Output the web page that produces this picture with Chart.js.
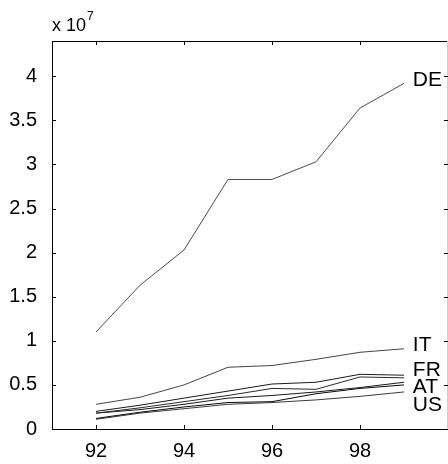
<!DOCTYPE html>
<html lang="en">
<head>
  <meta charset="UTF-8">
  <title>Country series</title>
  <script src="https://cdn.jsdelivr.net/npm/chart.js"></script>
  <style>
    body { margin: 0; background: #fff; }
  </style>
</head>
<body>
  <canvas id="myChart" width="448" height="464"></canvas>

  <script>
    // years and values (units of 1e7)
    const years = [92, 93, 94, 95, 96, 97, 98, 99];
    const de = [1.10, 1.63, 2.03, 2.83, 2.83, 3.03, 3.64, 3.92];
    const it = [0.28, 0.36, 0.50, 0.70, 0.72, 0.79, 0.87, 0.91];
    const fr = [0.20, 0.27, 0.35, 0.43, 0.51, 0.53, 0.62, 0.61];
    const other1 = [0.18, 0.24, 0.31, 0.38, 0.46, 0.45, 0.59, 0.58];
    const at = [0.18, 0.22, 0.28, 0.35, 0.38, 0.42, 0.47, 0.53];
    const other2 = [0.12, 0.19, 0.25, 0.30, 0.31, 0.40, 0.46, 0.50];
    const us = [0.11, 0.18, 0.23, 0.28, 0.30, 0.33, 0.37, 0.42];

    const xTicks = [92, 94, 96, 98];
    const yTicks = [0, 0.5, 1, 1.5, 2, 2.5, 3, 3.5, 4];

    // text labels at line ends: [text, y value]
    const endLabels = [['DE', 3.95], ['IT', 0.95], ['FR', 0.67], ['AT', 0.47], ['US', 0.27]];

    const series = [
      { name: 'DE', values: de, color: '#4a4a4a' },
      { name: 'IT', values: it, color: '#444444' },
      { name: 'FR', values: fr, color: '#1a1a1a' },
      { name: 'other1', values: other1, color: '#2a2a2a' },
      { name: 'AT', values: at, color: '#1a1a1a' },
      { name: 'other2', values: other2, color: '#0a0a0a' },
      { name: 'US', values: us, color: '#3a3a3a' }
    ];

    const FONT = '"Liberation Sans", Arial, sans-serif';

    const frame = {
      id: 'frame',
      afterDraw(chart) {
        const ctx = chart.ctx;
        const a = chart.chartArea;
        const xs = chart.scales.x, ys = chart.scales.y;
        ctx.save();
        ctx.strokeStyle = '#000';
        ctx.lineWidth = 1;
        // top border
        ctx.beginPath();
        ctx.moveTo(a.left, a.top + 0.5);
        ctx.lineTo(a.right, a.top + 0.5);
        ctx.stroke();
        // right border
        ctx.strokeStyle = '#cfcfcf';
        ctx.beginPath();
        ctx.moveTo(a.right - 0.5, a.top);
        ctx.lineTo(a.right - 0.5, a.bottom);
        ctx.stroke();
        // inward tick marks
        ctx.strokeStyle = '#000';
        ctx.beginPath();
        xTicks.forEach(v => {
          const px = Math.round(xs.getPixelForValue(v)) + 0.5;
          ctx.moveTo(px, a.bottom); ctx.lineTo(px, a.bottom - 4);
          ctx.moveTo(px, a.top); ctx.lineTo(px, a.top + 4);
        });
        yTicks.forEach(v => {
          const py = Math.round(ys.getPixelForValue(v)) + 0.5;
          ctx.moveTo(a.left, py); ctx.lineTo(a.left + 4, py);
          ctx.moveTo(a.right, py); ctx.lineTo(a.right - 4, py);
        });
        ctx.stroke();
        // end labels
        ctx.fillStyle = '#000';
        ctx.font = '21px ' + FONT;
        ctx.textBaseline = 'middle';
        ctx.textAlign = 'left';
        endLabels.forEach(([t, v]) => {
          ctx.fillText(t, xs.getPixelForValue(99.2), ys.getPixelForValue(v));
        });
        // exponent label
        ctx.font = '18px ' + FONT;
        ctx.textBaseline = 'alphabetic';
        ctx.fillText('x 10', a.left, 31);
        ctx.font = '12px ' + FONT;
        ctx.fillText('7', a.left + 35, 20);
        ctx.restore();
      }
    };

    document.addEventListener('DOMContentLoaded', function() {
      const ctx = document.getElementById('myChart').getContext('2d');

      const config = {
        type: 'line',
        data: {
          datasets: series.map(s => ({
            label: s.name,
            data: years.map((yr, i) => ({ x: yr, y: s.values[i] })),
            borderColor: s.color,
            borderWidth: 1,
            pointRadius: 0,
            fill: false,
            tension: 0
          }))
        },
        options: {
          responsive: false,
          animation: false,
          layout: { padding: { top: 41, right: 0, left: 0, bottom: 0 } },
          plugins: {
            legend: { display: false },
            tooltip: { enabled: false }
          },
          scales: {
            x: {
              type: 'linear',
              min: 91,
              max: 100,
              afterBuildTicks: scale => { scale.ticks = xTicks.map(v => ({ value: v })); },
              afterFit: scale => { scale.height = 35; },
              grid: { display: false },
              border: { display: true, color: '#000', width: 1 },
              ticks: {
                color: '#000',
                padding: 2,
                maxRotation: 0,
                font: { family: FONT, size: 20 },
                callback: v => String(v)
              }
            },
            y: {
              min: 0,
              max: 4.4,
              afterBuildTicks: scale => { scale.ticks = yTicks.map(v => ({ value: v })); },
              afterFit: scale => { scale.width = 52; },
              grid: { display: false },
              border: { display: true, color: '#000', width: 1 },
              ticks: {
                color: '#000',
                padding: 7,
                font: { family: FONT, size: 20 },
                callback: v => String(v)
              }
            }
          }
        },
        plugins: [frame]
      };

      new Chart(ctx, config);
    });
  </script>
</body>
</html>
